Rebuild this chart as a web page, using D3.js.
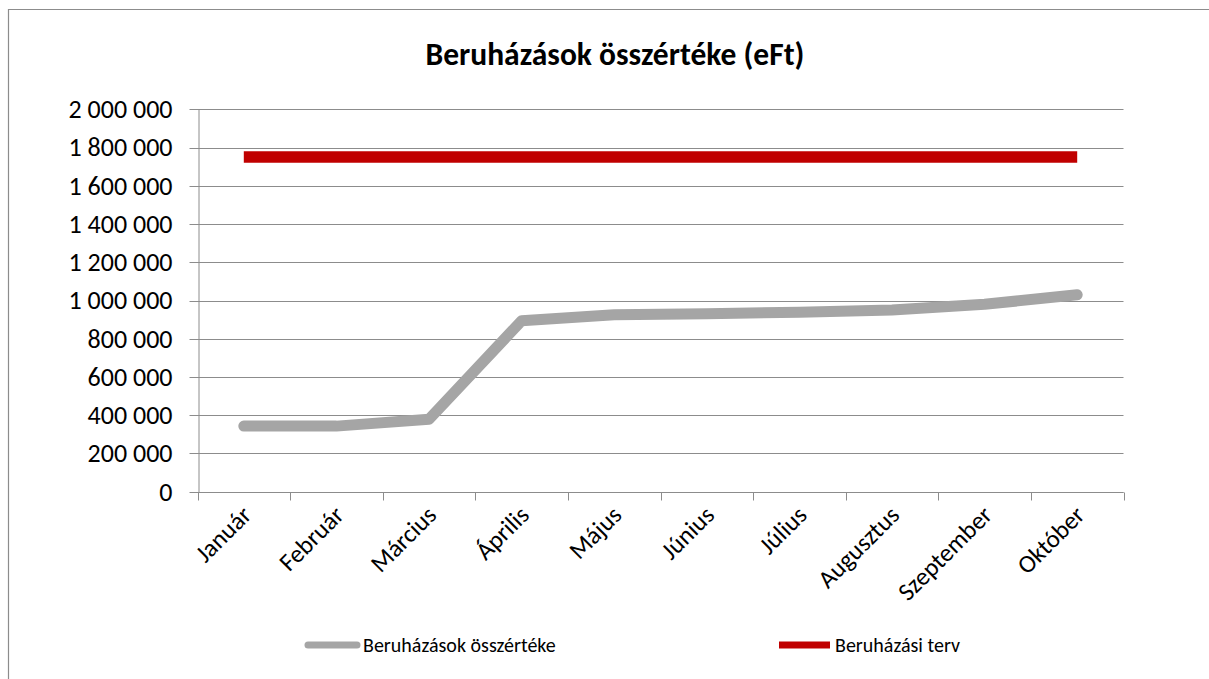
<!DOCTYPE html>
<html>
<head>
  <meta charset="utf-8">
  <script src="https://d3js.org/d3.v7.min.js"></script>
  <style>
    body { margin: 0; background: #fff; }
    text { font-family: Carlito, Calibri, "Open Sans", sans-serif; fill: #000; }
  </style>
</head>
<body>
  <div id="chart"></div>
  <script>
    // chart data
    var months = ["Január", "Február", "Március", "Április", "Május", "Június",
      "Július", "Augusztus", "Szeptember", "Október"];
    var totals = [343000, 343000, 379000, 894000, 925000, 931000, 939000, 950000, 980000, 1030000];
    var plan = [1750000, 1750000, 1750000, 1750000, 1750000, 1750000, 1750000, 1750000, 1750000, 1750000];
    var yTicks = [0, 200000, 400000, 600000, 800000, 1000000, 1200000, 1400000, 1600000, 1800000, 2000000];
    var title = "Beruházások összértéke (eFt)";
    var seriesNames = ["Beruházások összértéke", "Beruházási terv"];

    var W = 1209, H = 679;
    var plot = { left: 197.5, right: 1123.5, top: 109.3, bottom: 491.7 };
    var gridColor = "#8c8c8c";

    var svg = d3.select("#chart").append("svg")
      .attr("width", W).attr("height", H);

    svg.append("rect").attr("width", W).attr("height", H).attr("fill", "#fff");

    // outer frame (only top and left visible)
    svg.append("path")
      .attr("d", "M8.5," + H + "V9.5H" + W)
      .attr("fill", "none").attr("stroke", "#8c8c8c").attr("stroke-width", 1.2);

    var x = d3.scaleBand().domain(months).range([plot.left, plot.right]);
    var y = d3.scaleLinear().domain([0, 2000000]).range([plot.bottom, plot.top]);

    var huFormat = d3.formatLocale({ decimal: ",", thousands: " ", grouping: [3], currency: ["", ""] }).format(",d");

    // gridlines
    svg.append("g").selectAll("line").data(yTicks).join("line")
      .attr("x1", plot.left - 8).attr("x2", plot.right)
      .attr("y1", d => Math.round(y(d)) + 0.5).attr("y2", d => Math.round(y(d)) + 0.5)
      .attr("stroke", gridColor).attr("stroke-width", 1);

    // y axis
    var yAxis = svg.append("g")
      .attr("transform", "translate(" + (Math.round(plot.left) + 0.5) + ",0)")
      .call(d3.axisLeft(y).tickValues(yTicks).tickFormat(huFormat).tickSize(0).tickPadding(26));
    yAxis.select(".domain").attr("stroke", gridColor);
    yAxis.selectAll("text").attr("font-size", "26px").attr("font-family", null);

    // x axis
    var xAxis = svg.append("g")
      .attr("transform", "translate(0," + (Math.round(plot.bottom) + 0.5) + ")");
    xAxis.append("line")
      .attr("x1", plot.left).attr("x2", plot.right)
      .attr("stroke", gridColor);
    var bounds = months.map(m => x(m)).concat([plot.right]);
    xAxis.selectAll("line.tick").data(bounds).join("line")
      .attr("class", "tick")
      .attr("x1", d => Math.round(d) + 0.5).attr("x2", d => Math.round(d) + 0.5)
      .attr("y1", 0).attr("y2", 8)
      .attr("stroke", gridColor);
    xAxis.selectAll("text").data(months).join("text")
      .attr("transform", d => "translate(" + (x(d) + x.bandwidth() / 2 + 9) + ",24) rotate(-45)")
      .attr("text-anchor", "end")
      .attr("font-size", "25px")
      .text(d => d);

    // lines
    var line = d3.line()
      .x((d, i) => x(months[i]) + x.bandwidth() / 2)
      .y(d => y(d));

    svg.append("path").datum(plan)
      .attr("d", line)
      .attr("fill", "none").attr("stroke", "#c00000")
      .attr("stroke-width", 11.5).attr("stroke-linecap", "butt");

    svg.append("path").datum(totals)
      .attr("d", line)
      .attr("fill", "none").attr("stroke", "#a5a5a5")
      .attr("stroke-width", 11).attr("stroke-linecap", "round").attr("stroke-linejoin", "round");

    // title
    svg.append("text")
      .attr("x", 615).attr("y", 65)
      .attr("text-anchor", "middle")
      .attr("font-size", "31.5px").attr("font-weight", "bold")
      .text(title);

    // legend
    var legend = [
      { name: seriesNames[0], color: "#a5a5a5", cap: "round", x0: 308, x1: 357 },
      { name: seriesNames[1], color: "#c00000", cap: "butt", x0: 779, x1: 830 }
    ];
    var lg = svg.append("g").selectAll("g").data(legend).join("g");
    lg.append("line")
      .attr("x1", d => d.x0).attr("x2", d => d.x1)
      .attr("y1", 645).attr("y2", 645)
      .attr("stroke", d => d.color).attr("stroke-width", 7)
      .attr("stroke-linecap", d => d.cap);
    lg.append("text")
      .attr("x", d => d.x1 + (d.cap === "round" ? 6 : 5)).attr("y", 645)
      .attr("dy", "0.35em")
      .attr("font-size", "20px")
      .text(d => d.name);
  </script>
</body>
</html>
